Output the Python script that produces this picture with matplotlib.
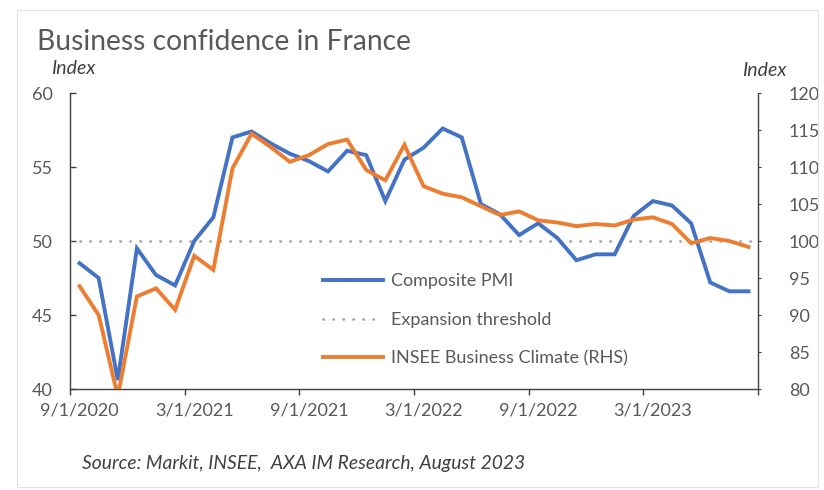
import matplotlib
matplotlib.use("Agg")
import matplotlib.pyplot as plt
from matplotlib.lines import Line2D
from matplotlib.patches import Rectangle
import numpy as np

plt.rcParams['font.family'] = ['Lato', 'DejaVu Sans']

# ---- data (monthly, Sep 2020 .. Aug 2023) ----
tick_labels = ["9/1/2020", "3/1/2021", "9/1/2021", "3/1/2022", "9/1/2022", "3/1/2023"]
composite_pmi = [48.5, 47.5, 40.6, 49.5, 47.7, 47.0, 50.0, 51.6, 57.0, 57.4, 56.6, 55.9,
                 55.4, 54.7, 56.1, 55.8, 52.7, 55.5, 56.3, 57.6, 57.0, 52.5, 51.8, 50.4,
                 51.2, 50.2, 48.7, 49.1, 49.1, 51.7, 52.7, 52.4, 51.2, 47.2, 46.6, 46.6]
insee_climate = [93.9, 90.0, 79.0, 92.5, 93.6, 90.7, 98.0, 96.1, 109.8, 114.5, 112.7, 110.7,
                 111.6, 113.1, 113.7, 109.6, 108.2, 113.0, 107.4, 106.4, 105.9, 104.7, 103.5, 104.0,
                 102.8, 102.5, 102.0, 102.3, 102.1, 102.9, 103.2, 102.3, 99.7, 100.4, 100.0, 99.2]
threshold = 50

BLUE = "#4472C4"
ORANGE = "#ED7D31"
GREY = "#A6A6A6"
TXT = "#595959"

W, H = 824, 490
fig = plt.figure(figsize=(W / 100, H / 100), dpi=100)
fig.patch.set_facecolor("white")

# faint outer border
fig.add_artist(Rectangle((17 / W, 1 - 487 / H), (818 - 17) / W, (487 - 10) / H,
                         transform=fig.transFigure, fill=False, ec="#E3E3E3", lw=0.8))

L, R, T, B = 70, 758, 93, 389
ax = fig.add_axes([L / W, 1 - B / H, (R - L) / W, (B - T) / H])
ax2 = ax.twinx()

n = len(composite_pmi)
x = np.arange(n) + 0.5

ax.plot(x, composite_pmi, color=BLUE, lw=2.8, solid_joinstyle="miter", zorder=3)
ax.axhline(threshold, color=GREY, lw=2.0, linestyle=(0, (0.1, 3.5)),
           dash_capstyle="round", zorder=2)
ax2.plot(x, insee_climate, color=ORANGE, lw=2.8, solid_joinstyle="miter", zorder=3)

ax.set_xlim(0, n)
ax.set_ylim(40, 60)
ax2.set_ylim(80, 120)

ax.set_yticks(np.arange(40, 61, 5))
ax2.set_yticks(np.arange(80, 121, 5))

ax.set_xticks(np.arange(0, n + 1, 6))
ax.set_xticklabels([])
ax.set_xticks(np.arange(0, n - 5, 6) + 0.5, minor=True)
ax.set_xticklabels(tick_labels, minor=True)

ax.tick_params(axis="x", which="major", direction="out", length=4, width=1.0, color="#404040")
ax.tick_params(axis="x", which="minor", length=0, pad=10, labelsize=13, labelcolor=TXT)
ax.tick_params(axis="y", direction="in", length=4.5, width=1.0, color="#404040",
               pad=12.5, labelsize=13, labelcolor=TXT)
ax2.tick_params(axis="y", direction="out", length=2.2, width=0.8, color="#404040",
                pad=20, labelsize=13, labelcolor=TXT)

for a in (ax, ax2):
    a.spines["top"].set_visible(False)
ax.spines["right"].set_visible(False)
ax2.spines["left"].set_visible(False)
ax2.spines["bottom"].set_visible(False)
ax.spines["left"].set_color("#404040")
ax.spines["bottom"].set_color("#404040")
ax.spines["left"].set_linewidth(1.0)
ax.spines["bottom"].set_linewidth(1.0)
ax2.spines["right"].set_color("#404040")
ax2.spines["right"].set_linewidth(1.0)
ax2.spines["right"].set_linestyle((0, (1, 1)))

# legend
handles = [Line2D([], [], color=BLUE, lw=2.8),
           Line2D([], [], color=GREY, lw=2.0, linestyle=(0, (0.1, 3.5)), dash_capstyle="round"),
           Line2D([], [], color=ORANGE, lw=2.8)]
labels = ["Composite PMI", "Expansion threshold", "INSEE Business Climate (RHS)"]
leg = ax2.legend(handles, labels, loc="center left",
                 bbox_to_anchor=(323 / W, 1 - 320 / H), bbox_transform=fig.transFigure,
                 frameon=False, fontsize=13, handlelength=3.3, handletextpad=0.45,
                 labelspacing=1.25, borderpad=0, borderaxespad=0)
for t in leg.get_texts():
    t.set_color(TXT)

# texts
fig.text(37 / W, 1 - 42 / H, "Business confidence in France", fontsize=20.3, color=TXT,
         ha="left", va="center")
fig.text(51 / W, 1 - 69 / H, "Index", fontsize=14, style="italic", color="#404040",
         ha="left", va="center")
fig.text(742 / W, 1 - 70 / H, "Index", fontsize=14, style="italic", color="#404040",
         ha="left", va="center")
fig.text(82 / W, 1 - 463 / H, "Source: Markit, INSEE,  AXA IM Research, August 2023",
         fontsize=13.9, style="italic", color="#404040", ha="left", va="center")

fig.savefig("out.png", dpi=100, facecolor="white")
